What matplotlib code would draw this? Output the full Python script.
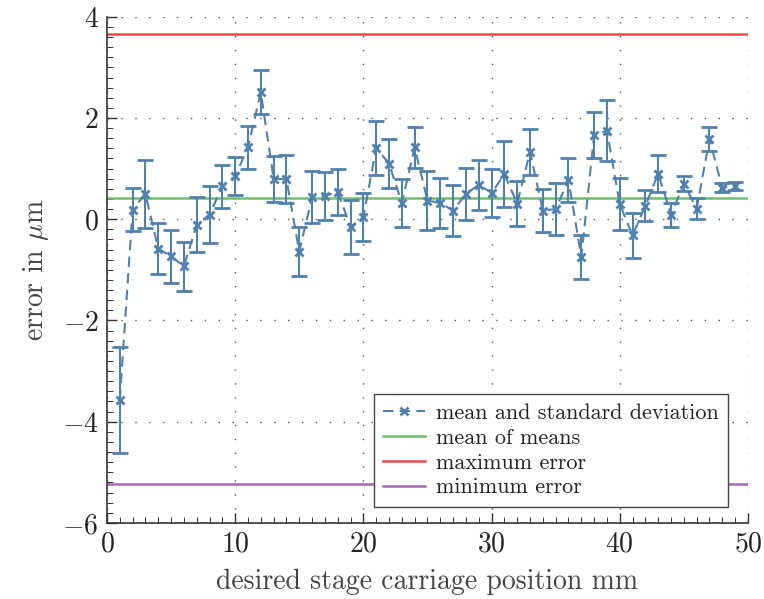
import matplotlib
matplotlib.use("Agg")
import matplotlib.pyplot as plt
from matplotlib.ticker import MultipleLocator
from matplotlib.lines import Line2D

plt.rcParams['font.family'] = 'cmr10'
plt.rcParams['mathtext.fontset'] = 'cm'
plt.rcParams['axes.formatter.use_mathtext'] = True

# stage positions in mm
position = list(range(1, 50))

# mean error per position (um)
mean_err = [-3.57, 0.19, 0.50, -0.58, -0.73, -0.93, -0.11, 0.09, 0.65, 0.85,
            1.42, 2.51, 0.80, 0.79, -0.64, 0.44, 0.46, 0.54, -0.15, 0.04,
            1.41, 1.10, 0.32, 1.42, 0.37, 0.32, 0.17, 0.50, 0.68, 0.52,
            0.89, 0.31, 1.33, 0.17, 0.20, 0.78, -0.75, 1.66, 1.75, 0.30,
            -0.32, 0.27, 0.90, 0.09, 0.70, 0.21, 1.58, 0.62, 0.65]

# standard deviation per position (um)
std_err = [1.05, 0.43, 0.67, 0.50, 0.52, 0.48, 0.54, 0.56, 0.43, 0.38,
           0.43, 0.43, 0.45, 0.47, 0.49, 0.51, 0.48, 0.46, 0.53, 0.47,
           0.54, 0.49, 0.48, 0.41, 0.58, 0.50, 0.50, 0.51, 0.49, 0.47,
           0.65, 0.44, 0.46, 0.42, 0.52, 0.43, 0.43, 0.45, 0.60, 0.52,
           0.44, 0.31, 0.37, 0.24, 0.15, 0.20, 0.24, 0.09, 0.08]

mean_of_means = 0.42
max_error = 3.65
min_error = -5.23

blue = '#4f80ae'
dash = (0, (5, 3))
fig = plt.figure(figsize=(7.64, 5.99), dpi=100)
ax = fig.add_axes([0.140, 0.127, 0.839, 0.845])

ax.errorbar(position, mean_err, yerr=std_err, color=blue, ecolor=blue,
            linestyle=dash, linewidth=1.5, marker='x', markersize=6,
            markeredgewidth=2, capsize=5.5, capthick=1.5, elinewidth=1.5,
            zorder=3)
ax.axhline(mean_of_means, color='#6cc06c', linewidth=1.8, zorder=2)
ax.axhline(max_error, color='#ec4a4a', linewidth=1.8, zorder=2)
ax.axhline(min_error, color='#a865b8', linewidth=1.8, zorder=2)

ax.set_xlim(0, 50)
ax.set_ylim(-6, 4)
ax.xaxis.set_major_locator(MultipleLocator(10))
ax.xaxis.set_minor_locator(MultipleLocator(1))
ax.yaxis.set_major_locator(MultipleLocator(2))
ax.yaxis.set_minor_locator(MultipleLocator(0.2))
ax.grid(True, which='major', color='#555555', linestyle=(0, (1, 9)), linewidth=1.0)

ax.spines['top'].set_visible(False)
ax.spines['right'].set_visible(False)
for s in ('left', 'bottom'):
    ax.spines[s].set_color('#333333')
    ax.spines[s].set_linewidth(1.2)

ax.tick_params(which='major', direction='in', length=7, width=1.0,
               labelsize=20, colors='#333333', labelcolor='#222222', pad=6)
ax.tick_params(which='minor', direction='in', length=4, width=0.7, colors='#333333')
ax.tick_params(top=False, right=False)

ax.set_xlabel('desired stage carriage position mm', fontsize=20, color='#444444', labelpad=8)
ax.set_ylabel(r'error in $\mu$m', fontsize=20, color='#444444', labelpad=8)

handles = [
    Line2D([], [], color=blue, linestyle=dash, linewidth=1.5, marker='x',
           markersize=6, markeredgewidth=2),
    Line2D([], [], color='#6cc06c', linewidth=1.8),
    Line2D([], [], color='#ec4a4a', linewidth=1.8),
    Line2D([], [], color='#a865b8', linewidth=1.8),
]
labels = ['mean and standard deviation', 'mean of means', 'maximum error', 'minimum error']
leg = ax.legend(handles, labels, loc='lower right', bbox_to_anchor=(0.969, 0.032),
                fontsize=15.9, frameon=True, fancybox=False, handlelength=1.9,
                handletextpad=0.5, borderpad=0.42, labelspacing=0.24, borderaxespad=0.0)
leg.get_frame().set_edgecolor('#444444')
leg.get_frame().set_linewidth(1.0)
leg.get_frame().set_alpha(1.0)
for t in leg.get_texts():
    t.set_color('#222222')

fig.savefig('out.png', dpi=100)
